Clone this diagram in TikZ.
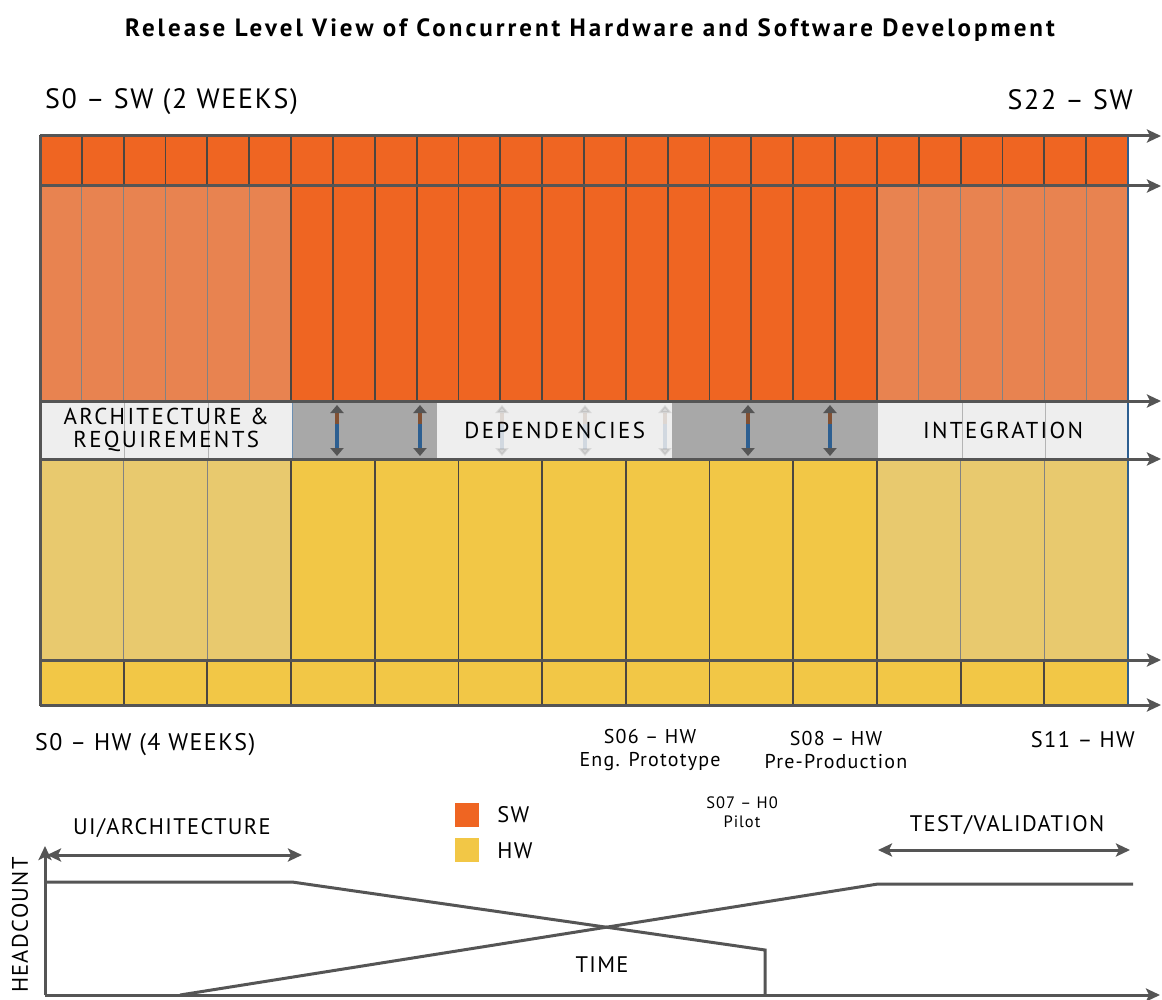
\documentclass[tikz,border=0pt]{standalone}
\usepackage{fontspec}
\usepackage{xcolor}
\usepackage{tikz}
\usetikzlibrary{positioning}
\usetikzlibrary{arrows.meta}
\setmainfont{PT Sans}
\newfontfamily\capsfont[LetterSpace=6]{PT Sans}
\newfontfamily\widefont[LetterSpace=10]{PT Sans}
\newfontfamily\titlefont[LetterSpace=12]{PT Sans}

\definecolor{swdark}{RGB}{239,101,34}
\definecolor{swlight}{RGB}{232,131,80}
\definecolor{hwdark}{RGB}{242,199,70}
\definecolor{hwlight}{RGB}{232,201,110}
\definecolor{gridline}{RGB}{75,70,65}
\definecolor{gridlight}{RGB}{130,130,130}
\definecolor{axisgray}{RGB}{85,85,85}
\definecolor{bandgray}{RGB}{168,168,168}
\definecolor{bandwhite}{RGB}{238,238,238}
\definecolor{depbrown}{RGB}{130,80,50}
\definecolor{depblue}{RGB}{45,95,145}

\begin{document}
\begin{tikzpicture}[x=1pt, y=-1pt,
    darkcell/.style={draw=gridline, line width=1.8pt},
    lightcell/.style={draw=gridlight, line width=1.2pt},
    timeline/.style={draw=axisgray, line width=3pt, -{Stealth[length=14pt, width=13pt, inset=3pt]}},
    bothways/.style={draw=axisgray, line width=3pt, {Stealth[length=14pt, width=13pt, inset=3pt]}-{Stealth[length=14pt, width=13pt, inset=3pt]}},
    curve/.style={draw=axisgray, line width=3pt},
    deptop/.style={draw=depbrown, line width=4.5pt, -{Triangle[length=8pt, width=13pt, color=axisgray]}},
    depbot/.style={draw=depblue, line width=4.5pt, -{Triangle[length=8pt, width=13pt, color=axisgray]}},
    bandbox/.style={fill=bandwhite, minimum height=58pt, anchor=north west, inner sep=0pt},
    bandlabel/.style={inner sep=0pt, align=center, font=\widefont\fontsize{23}{23}\selectfont},
    biglabel/.style={inner sep=0pt, font=\capsfont\fontsize{28}{30}\selectfont},
    hwlabel/.style={inner sep=0pt, align=center, font=\capsfont\fontsize{20}{23}\selectfont},
    chartlabel/.style={inner sep=0pt, font=\capsfont\fontsize{22.5}{24}\selectfont},
    legendbox/.style={minimum size=24pt, inner sep=0pt}]
\useasboundingbox (0,0) rectangle (1162,1000);

\node[inner sep=0pt, font=\titlefont\bfseries\fontsize{25}{28}\selectfont] (title) at (590,30) {Release Level View of Concurrent Hardware and Software Development};
\node[biglabel, anchor=west] (sw_start) at (45,102) {S0 – SW (2 WEEKS)};
\node[biglabel, anchor=east] (sw_end) at (1133,100) {S22 – SW};

% software sprints
\foreach \i in {0,...,25}
    \draw[darkcell, fill=swdark] ({40+\i*41.846},136) rectangle ++(41.846,50);
\foreach \i in {0,...,5,20,21,22,23,24,25}
    \draw[lightcell, fill=swlight] ({40+\i*41.846},186) rectangle ++(41.846,215);
\foreach \i in {6,...,19}
    \draw[darkcell, fill=swdark] ({40+\i*41.846},186) rectangle ++(41.846,215);

% hardware sprints
\foreach \i in {0,1,2,10,11,12}
    \draw[lightcell, fill=hwlight] ({40+\i*83.69},459) rectangle ++(83.69,201);
\foreach \i in {3,...,9}
    \draw[darkcell, fill=hwdark] ({40+\i*83.69},459) rectangle ++(83.69,201);
\foreach \i in {0,...,12}
    \draw[darkcell, fill=hwdark] ({40+\i*83.69},660) rectangle ++(83.69,45);

% middle band
\fill[bandgray, draw=depblue!70, line width=1pt] (292,401) rectangle (878,459);
\node[bandbox, minimum width=252pt] (arch_req) at (40,401) {};
\node[bandbox, minimum width=235pt] (dependencies) at (437,401) {};
\node[bandbox, minimum width=250pt] (integration) at (878,401) {};
\foreach \x in {124,208,962,1045}
    \draw[gridlight!60, line width=1pt] (\x,401) -- (\x,459);
\node[bandlabel] at (arch_req.center) {ARCHITECTURE \&\\REQUIREMENTS};
\node[bandlabel] at (dependencies.center) {DEPENDENCIES};
\node[bandlabel] at (integration.center) {INTEGRATION};
\foreach \x/\op in {337/1, 420/1, 502/0.15, 585/0.15, 665/0.15, 748/1, 830/1} {
    \coordinate (dep_mid) at (\x,424);
    \coordinate (dep_top) at (\x,405);
    \coordinate (dep_bot) at (\x,456);
    \draw[deptop, opacity=\op] (dep_mid) -- (dep_top);
    \draw[depbot, opacity=\op] (dep_mid) -- (dep_bot);
}

% timelines
\draw[curve] (40,136) -- (40,705);
\draw[depblue, line width=1.5pt] (1128,136) -- (1128,705);
\foreach \y [count=\k] in {136,186,401,459,660,705} {
    \coordinate (row_start\k) at (40,\y);
    \coordinate (row_end\k) at (1161,\y);
    \draw[timeline] (row_start\k) -- (row_end\k);
}

\node[chartlabel, anchor=west, font=\capsfont\fontsize{24}{26}\selectfont] (hw_start) at (35,745) {S0 – HW (4 WEEKS)};
\node[hwlabel] (eng_proto) at (650,750) {S06 – HW\\Eng. Prototype};
\node[hwlabel] (pre_prod) at (836,750) {S08 – HW\\Pre-Production};
\node[chartlabel, anchor=east] (hw_end) at (1135,740) {S11 – HW};
\node[hwlabel, font=\capsfont\fontsize{16.5}{19}\selectfont] (pilot) at (742,812) {S07 – H0\\Pilot};

% legend
\node[legendbox, fill=swdark] (legend_sw) at (467,815) {};
\node[legendbox, fill=hwdark, below=11pt of legend_sw] (legend_hw) {};
\node[chartlabel, right=18pt of legend_sw] (sw_text) {SW};
\node[chartlabel, right=18pt of legend_hw] (hw_text) {HW};

% headcount chart
\coordinate (origin) at (45,995);
\coordinate (y_top) at (45,846);
\coordinate (x_end) at (1160,995);
\draw[timeline] (origin) -- (y_top);
\draw[timeline] (origin) -- (x_end);
\draw[curve] (45,882) -- (292,882) -- (765,950) -- (765,995);
\draw[curve] (180,995) -- (878,884) -- (1133,884);
\coordinate (ui_left) at (47,855);
\coordinate (ui_right) at (302,855);
\draw[bothways] (ui_left) -- (ui_right);
\coordinate (test_left) at (878,850);
\coordinate (test_right) at (1130,850);
\draw[bothways] (test_left) -- (test_right);
\node[chartlabel] (ui_arch) at (172,828) {UI/ARCHITECTURE};
\node[chartlabel] (test_val) at (1007,825) {TEST/VALIDATION};
\node[chartlabel] (time) at (602,965) {TIME};
\node[chartlabel, rotate=90] (headcount) at (20,925) {HEADCOUNT};
\end{tikzpicture}
\end{document}
